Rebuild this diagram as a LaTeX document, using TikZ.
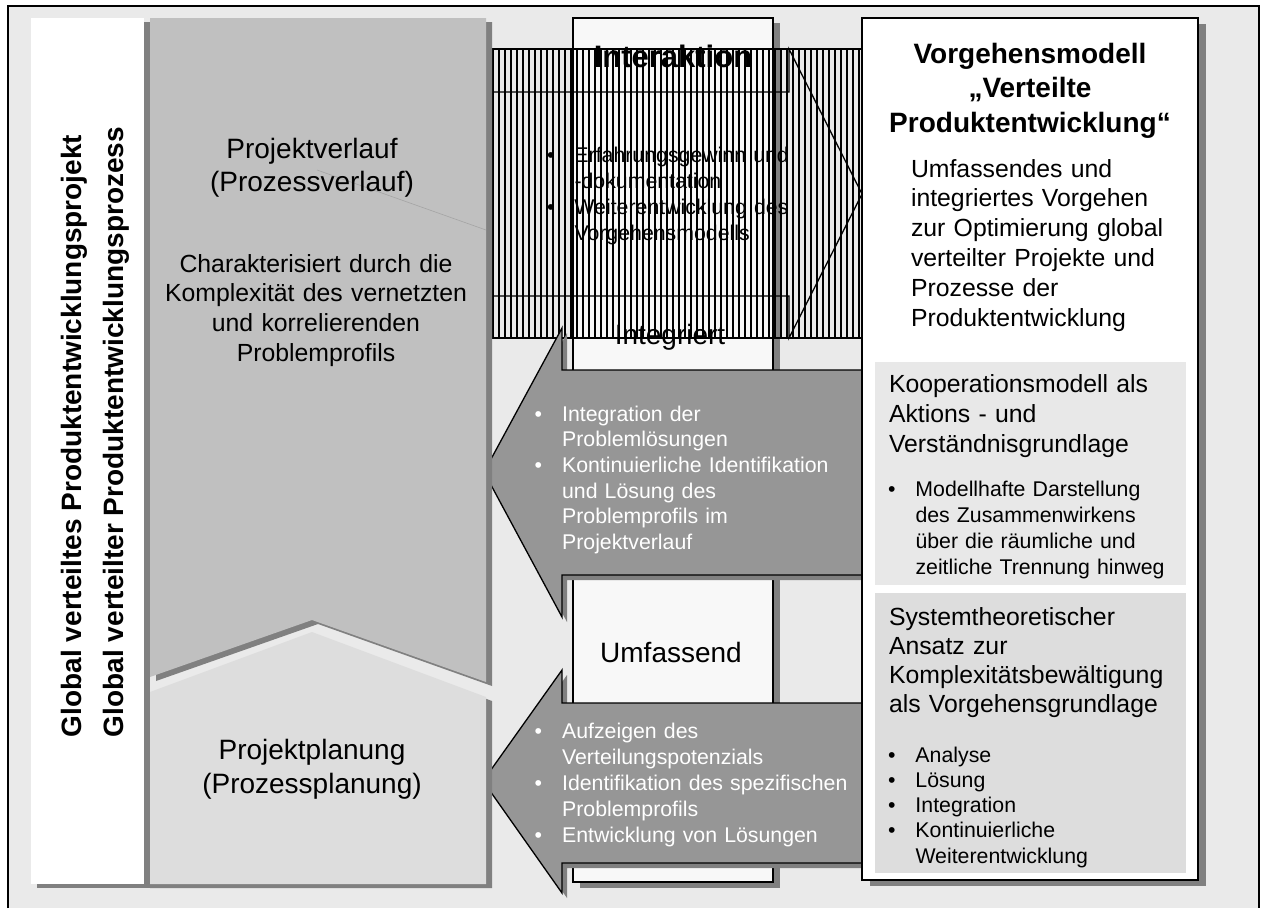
\documentclass[tikz,border=0pt]{standalone}
\usepackage{fontspec}
\setmainfont{Liberation Sans}
\definecolor{framebg}{HTML}{EAEAEA}
\definecolor{shadowgray}{HTML}{808080}
\definecolor{upgray}{HTML}{C0C0C0}
\definecolor{lowgray}{HTML}{DDDDDD}
\definecolor{arrowgray}{HTML}{969696}
\definecolor{columnfill}{HTML}{F8F8F8}
\definecolor{panelA}{HTML}{E8E8E8}
\definecolor{panelB}{HTML}{DDDDDD}
\definecolor{faint}{HTML}{A4A4A4}
% bullet paragraph with hanging indent
\newcommand{\bpt}[1]{\noindent\hangindent=27.5pt\hangafter=1\makebox[27.5pt][l]{\textbullet}#1\par}
\begin{document}
\begin{tikzpicture}[x=1pt,y=-1pt,
  shadowfill/.style={fill=shadowgray, draw=none},
  outline/.style={draw=black, line width=1.3pt},
  hatchline/.style={draw=black, line width=2pt},
  txt/.style={inner sep=0pt, outer sep=0pt, align=left, anchor=base west},
  ctxt/.style={inner sep=0pt, outer sep=0pt, align=center, anchor=base},
  sizeL/.style={font=\fontsize{28}{33.5}\selectfont},
  sizeM/.style={font=\fontsize{24.8}{29.7}\selectfont},
  sizeS/.style={font=\fontsize{21.3}{25.7}\selectfont},
]
\useasboundingbox (0,0) rectangle (1265,908);

% outer frame
\fill[framebg] (8,6) rectangle (1259,908);
\draw[line width=1.5pt] (8,908) -- (8,6) -- (1259,6) -- (1259,908);

% central column
\fill[shadowgray] (580,23) rectangle (780,888);
\draw[outline, fill=columnfill] (573,18) rectangle (773,882);
\node[ctxt, font=\bfseries\fontsize{31}{36}\selectfont] (interaktion) at (673,67) {Interaktion};
\node[ctxt, sizeL] (integriert) at (670,344) {Integriert};
\node[ctxt, sizeL] (umfassend) at (671,662) {Umfassend};

% interaction arrow (hatched)
\node[txt, font=\fontsize{21.3}{26.3}\selectfont, text width=300pt] (ia) at (547,162)
  {\bpt{Erfahrungsgewinn und\newline -dokumentation}\bpt{Weiterentwicklung des\newline Vorgehensmodells}};
\begin{scope}
  \clip (480,49) rectangle (862,338);
  \foreach \hx in {0,...,61}
    \draw[hatchline] ({493.3+6*\hx},40) -- ({493.3+6*\hx},345);
\end{scope}
\draw[line width=1.3pt] (480,49) rectangle (862,338);
\draw[outline] (480,92) -- (789,92) -- (789,49) -- (862,194) -- (789,338) -- (789,296) -- (480,296);

% integration arrow
\path[shadowfill, shift={(5,5)}] (870,370) -- (562,370) -- (562,328) -- (484,472) -- (562,617) -- (562,575) -- (870,575) -- cycle;
\draw[outline, fill=arrowgray] (870,370) -- (562,370) -- (562,328) -- (484,472) -- (562,617) -- (562,575) -- (870,575) -- cycle;
\node[txt, sizeS, text width=330pt, text=white] (intlist) at (534.6,421)
  {\bpt{Integration der\newline Problemlösungen}\bpt{Kontinuierliche Identifikation\newline und Lösung des\newline Problemprofils im\newline Projektverlauf}};

% planning arrow
\path[shadowfill, shift={(5,5)}] (870,703) -- (562,703) -- (562,670) -- (483,781) -- (562,893) -- (562,863) -- (870,863) -- cycle;
\draw[outline, fill=arrowgray] (870,703) -- (562,703) -- (562,670) -- (483,781) -- (562,893) -- (562,863) -- (870,863) -- cycle;
\node[txt, font=\fontsize{21.3}{26.2}\selectfont, text width=330pt, text=white] (planlist) at (534.6,738)
  {\bpt{Aufzeigen des\newline Verteilungspotenzials}\bpt{Identifikation des spezifischen\newline Problemprofils}\bpt{Entwicklung von Lösungen}};

% left side: title strip and the two phases
\fill[shadowgray] (37,22) rectangle (150,888);
\fill[white] (31,18) rectangle (144,884);
\fill[shadowgray] (156,22) -- (492,22) -- (492,686) -- (318,624) -- (156,681) -- cycle;
\fill[upgray] (150,18) -- (486,18) -- (486,682) -- (312,620) -- (150,677) -- cycle;
\fill[shadowgray] (150,696) -- (318,636) -- (492,701) -- (492,888) -- (150,888) -- cycle;
\fill[lowgray] (150,692) -- (312,632) -- (486,697) -- (486,884) -- (150,884) -- cycle;

\coordinate (fa) at (317,170);
\coordinate (fb) at (486,230);
\draw[faint, line width=0.6pt] (fa) -- (fb);

\node[txt, font=\bfseries\fontsize{28}{33}\selectfont, rotate=90] (g1) at (81.5,737) {Global verteiltes Produktentwicklungsprojekt};
\node[txt, font=\bfseries\fontsize{28}{33}\selectfont, rotate=90] (g2) at (123.5,737) {Global verteilter Produktentwicklungsprozess};

\node[ctxt, sizeL, text width=330pt] (verlauf) at (312,158) {Projektverlauf\\(Prozessverlauf)};
\node[ctxt, sizeM, text width=330pt] (charakter) at (316,272)
  {Charakterisiert durch die\\Komplexität des vernetzten\\und korrelierenden\\Problemprofils};
\node[ctxt, font=\fontsize{28}{34}\selectfont, text width=330pt] (planung) at (312,759) {Projektplanung\\(Prozessplanung)};

% right box: process model
\fill[shadowgray] (870,24) rectangle (1206,886);
\draw[outline, line width=1.5pt, fill=white] (862,18) rectangle (1198,880);
\fill[panelA] (875,362) rectangle (1186,585);
\fill[panelB] (875,593) rectangle (1186,873);

\node[ctxt, font=\bfseries\fontsize{28}{34.5}\selectfont, text width=330pt] (modell) at (1030,63)
  {Vorgehensmodell\\„Verteilte\\Produktentwicklung“};
\node[txt, font=\fontsize{24.8}{29.8}\selectfont, text width=280pt] (umf) at (911,177)
  {Umfassendes und\\integriertes Vorgehen\\zur Optimierung global\\verteilter Projekte und\\Prozesse der\\Produktentwicklung};

\node[txt, font=\fontsize{24.8}{30}\selectfont, text width=300pt] (koop) at (889,392)
  {Kooperationsmodell als\\Aktions - und\\Verständnisgrundlage};
\node[txt, font=\fontsize{21.3}{26}\selectfont, text width=300pt] (kooplist) at (888,496)
  {\bpt{Modellhafte Darstellung\newline des Zusammenwirkens\newline über die räumliche und\newline zeitliche Trennung hinweg}};

\node[txt, font=\fontsize{24.8}{29}\selectfont, text width=300pt] (system) at (889,625)
  {Systemtheoretischer\\Ansatz zur\\Komplexitätsbewältigung\\als Vorgehensgrundlage};
\node[txt, font=\fontsize{21.3}{25.3}\selectfont, text width=300pt] (syslist) at (888,762)
  {\bpt{Analyse}\bpt{Lösung}\bpt{Integration}\bpt{Kontinuierliche\newline Weiterentwicklung}};
\end{tikzpicture}
\end{document}
